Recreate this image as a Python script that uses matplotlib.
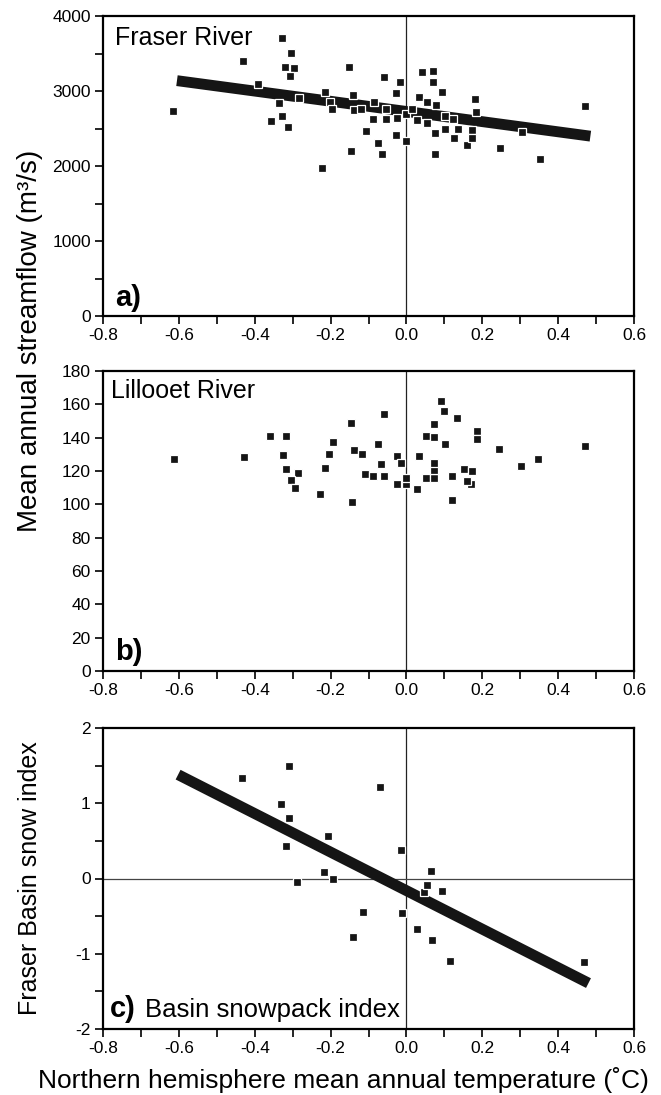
import matplotlib
matplotlib.use("Agg")
import matplotlib.pyplot as plt
from matplotlib.ticker import MultipleLocator, FormatStrFormatter

plt.rcParams['font.family'] = ['Liberation Sans', 'DejaVu Sans']
plt.rcParams['axes.unicode_minus'] = False

# a) Fraser River mean annual streamflow vs NH temperature
fraser_t = [-0.615, -0.430, -0.328, -0.304, -0.321, -0.296, -0.307, -0.391, -0.336, -0.283,
            -0.356, -0.327, -0.313, -0.214, -0.202, -0.195, -0.222, -0.151, -0.140, -0.137,
            -0.145, -0.120, -0.107, -0.085, -0.087, -0.076, -0.064, -0.058, -0.054, -0.054,
            -0.027, -0.016, -0.026, -0.027, -0.001, -0.001, 0.014, 0.027, 0.033, 0.041,
            0.053, 0.053, 0.069, 0.069, 0.077, 0.075, 0.076, 0.095, 0.103, 0.103,
            0.124, 0.125, 0.137, 0.160, 0.173, 0.173, 0.182, 0.183, 0.247, 0.305,
            0.353, 0.471]
fraser_q = [2730, 3405, 3710, 3510, 3325, 3310, 3195, 3095, 2845, 2905,
            2600, 2670, 2515, 2990, 2855, 2760, 1970, 3315, 2950, 2750,
            2200, 2760, 2470, 2860, 2630, 2305, 2165, 3190, 2760, 2625,
            2970, 3120, 2645, 2415, 2340, 2690, 2765, 2610, 2920, 3250,
            2575, 2860, 3270, 3115, 2820, 2440, 2160, 2990, 2665, 2495,
            2630, 2370, 2495, 2285, 2480, 2370, 2900, 2725, 2245, 2460,
            2095, 2800]
fraser_fit_t = [-0.605, 0.485]
fraser_fit_q = [3138, 2398]

# b) Lillooet River
lillooet_t = [-0.613, -0.428, -0.360, -0.317, -0.326, -0.317, -0.285, -0.304, -0.293, -0.227,
              -0.215, -0.205, -0.193, -0.146, -0.137, -0.144, -0.118, -0.076, -0.058, -0.066,
              -0.110, -0.088, -0.059, -0.025, -0.014, -0.025, -0.002, -0.002, 0.028, 0.034,
              0.051, 0.072, 0.072, 0.052, 0.072, 0.073, 0.073, 0.090, 0.100, 0.102,
              0.120, 0.121, 0.134, 0.151, 0.173, 0.171, 0.159, 0.185, 0.185, 0.245,
              0.301, 0.346, 0.472]
lillooet_q = [127, 128.5, 141, 141, 129.5, 121.5, 119, 114.5, 110, 106,
              122, 130, 137.5, 149, 132.5, 101.5, 130.5, 136.5, 154, 124.5,
              118, 117, 117, 129, 125, 112.5, 112.5, 116, 109, 129,
              141, 140.5, 148, 116, 116, 120.5, 125, 162, 156, 136.5,
              117, 102.5, 152, 121, 120, 112, 114, 144, 139.5, 133,
              123, 127.5, 135]

# c) Fraser Basin snowpack index
snow_t = [-0.433, -0.310, -0.331, -0.310, -0.318, -0.288, -0.217, -0.207, -0.193, -0.142,
          -0.114, -0.070, -0.014, -0.012, 0.029, 0.047, 0.054, 0.066, 0.094, 0.068,
          0.116, 0.469]
snow_idx = [1.33, 1.49, 0.99, 0.80, 0.43, -0.05, 0.09, 0.56, -0.01, -0.78,
            -0.45, 1.21, 0.38, -0.46, -0.67, -0.18, -0.09, 0.10, -0.16, -0.82,
            -1.10, -1.11]
snow_fit_t = [-0.602, 0.480]
snow_fit_idx = [1.38, -1.39]

W, H = 661, 1095
fig = plt.figure(figsize=(W / 100, H / 100), dpi=100)


def make_axes(top, bottom):
    ax = fig.add_axes([103 / W, 1 - bottom / H, 531 / W, (bottom - top) / H])
    ax.set_xlim(-0.8, 0.6)
    ax.xaxis.set_major_locator(MultipleLocator(0.2))
    ax.xaxis.set_minor_locator(MultipleLocator(0.1))
    ax.xaxis.set_major_formatter(FormatStrFormatter('%.1f'))
    ax.tick_params(which='both', direction='out', length=5.8, width=1.2, labelsize=12.5)
    ax.tick_params(axis='x', pad=2.5)
    ax.tick_params(axis='y', pad=3)
    for s in ax.spines.values():
        s.set_linewidth(1.6)
    ax.axvline(0, color='#222222', lw=0.9, zorder=1)
    return ax


def squares(ax, x, y):
    ax.plot(x, y, linestyle='none', marker='s', markersize=6.0, markerfacecolor='#151515',
            markeredgecolor='white', markeredgewidth=0.9, zorder=3)


# panel a
ax1 = make_axes(16, 316)
ax1.set_ylim(0, 4000)
ax1.yaxis.set_major_locator(MultipleLocator(1000))
ax1.yaxis.set_minor_locator(MultipleLocator(500))
ax1.plot(fraser_fit_t, fraser_fit_q, color='#151515', lw=7.8, solid_capstyle='butt', zorder=2)
squares(ax1, fraser_t, fraser_q)
ax1.text(0.023, 0.903, 'Fraser River', transform=ax1.transAxes, fontsize=18, va='baseline')
ax1.text(0.022, 0.035, 'a)', transform=ax1.transAxes, fontsize=21, fontweight='bold', va='baseline')

# panel b
ax2 = make_axes(371, 671)
ax2.set_ylim(0, 180)
ax2.yaxis.set_major_locator(MultipleLocator(20))
squares(ax2, lillooet_t, lillooet_q)
ax2.text(0.015, 0.909, 'Lillooet River', transform=ax2.transAxes, fontsize=18, va='baseline')
ax2.text(0.022, 0.035, 'b)', transform=ax2.transAxes, fontsize=21, fontweight='bold', va='baseline')

# panel c
ax3 = make_axes(728, 1029)
ax3.set_ylim(-2, 2)
ax3.yaxis.set_major_locator(MultipleLocator(1))
ax3.yaxis.set_minor_locator(MultipleLocator(0.5))
ax3.axhline(0, color='#444444', lw=0.9, zorder=1)
ax3.plot(snow_fit_t, snow_fit_idx, color='#151515', lw=7.8, solid_capstyle='butt', zorder=2)
squares(ax3, snow_t, snow_idx)
ax3.text(0.013, 0.04, 'c)', transform=ax3.transAxes, fontsize=21, fontweight='bold', va='baseline')
ax3.text(0.08, 0.04, 'Basin snowpack index', transform=ax3.transAxes, fontsize=18.5, va='baseline')

# axis titles
fig.text(30 / W, 1 - 341 / H, 'Mean annual streamflow (m³/s)', rotation=90,
         ha='center', va='center', fontsize=20)
fig.text(30 / W, 1 - 878 / H, 'Fraser Basin snow index', rotation=90,
         ha='center', va='center', fontsize=18)
fig.text(343 / W, 1 - 1088 / H, 'Northern hemisphere mean annual temperature (˚C)',
         ha='center', va='baseline', fontsize=19)

fig.savefig('out.png', dpi=100)
